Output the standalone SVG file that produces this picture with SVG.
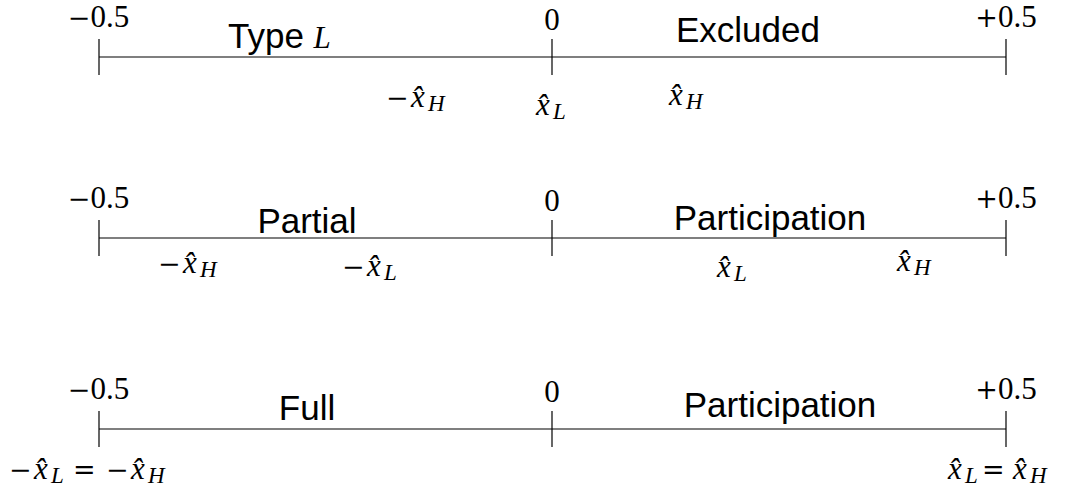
<svg xmlns="http://www.w3.org/2000/svg" width="1072" height="494" viewBox="0 0 1072 494">
<style>
.ax{stroke:#000;stroke-width:1.2;fill:none}
.tk{stroke:#000;stroke-width:1.2;fill:none}
.n{font-family:"Liberation Serif",serif;font-size:31px;fill:#000;text-anchor:middle}
.s{font-family:"Liberation Sans",sans-serif;font-size:35px;fill:#000}
.m{font-family:"Liberation Serif",serif;font-size:31px;fill:#000}
.op{font-family:"DejaVu Serif",serif;font-size:27px}
.i{font-style:italic}
.sub{font-family:"Liberation Serif",serif;font-style:italic;font-size:23px}
</style>
<rect width="1072" height="494" fill="#fff"/>
<g id="connectors">
  <line class="ax" x1="99" y1="57" x2="1006" y2="57"/>
  <line class="tk" x1="99" y1="39" x2="99" y2="75"/>
  <line class="tk" x1="552" y1="39" x2="552" y2="75"/>
  <line class="tk" x1="1006" y1="39" x2="1006" y2="75"/>
  <line class="ax" x1="99" y1="238" x2="1006" y2="238"/>
  <line class="tk" x1="99" y1="220" x2="99" y2="256"/>
  <line class="tk" x1="552" y1="220" x2="552" y2="256"/>
  <line class="tk" x1="1006" y1="220" x2="1006" y2="256"/>
  <line class="ax" x1="99" y1="429" x2="1006" y2="429"/>
  <line class="tk" x1="99" y1="411" x2="99" y2="447"/>
  <line class="tk" x1="552" y1="411" x2="552" y2="447"/>
  <line class="tk" x1="1006" y1="411" x2="1006" y2="447"/>
</g>
<!-- line 1 -->
<g id="l1-min"><text class="n" x="98.5" y="27"><tspan class="op">−</tspan>0.5</text></g>
<g id="l1-zero"><text class="n" x="552" y="30">0</text></g>
<g id="l1-max"><text class="n" x="1006" y="27"><tspan class="op">+</tspan>0.5</text></g>
<g id="l1-typeL"><text class="s" x="228" y="48">Type <tspan class="m i" font-size="34">L</tspan></text></g>
<g id="l1-excluded"><text class="s" x="748" y="42" text-anchor="middle">Excluded</text></g>
<g id="l1-negxH">
  <text class="m" y="107"><tspan class="op" x="386">−</tspan><tspan class="i" x="411">x̂</tspan><tspan class="sub" x="428" dy="4">H</tspan></text>
</g>
<g id="l1-xL">
  <text class="m" y="115"><tspan class="i" x="536">x̂</tspan><tspan class="sub" x="553" dy="4">L</tspan></text>
</g>
<g id="l1-xH">
  <text class="m" y="105"><tspan class="i" x="669">x̂</tspan><tspan class="sub" x="686" dy="4">H</tspan></text>
</g>
<!-- line 2 -->
<g id="l2-min"><text class="n" x="98.5" y="208"><tspan class="op">−</tspan>0.5</text></g>
<g id="l2-zero"><text class="n" x="552" y="211">0</text></g>
<g id="l2-max"><text class="n" x="1006" y="208"><tspan class="op">+</tspan>0.5</text></g>
<g id="l2-partial"><text class="s" x="307" y="233" text-anchor="middle">Partial</text></g>
<g id="l2-participation"><text class="s" x="770" y="230" text-anchor="middle">Participation</text></g>
<g id="l2-negxH">
  <text class="m" y="273"><tspan class="op" x="158">−</tspan><tspan class="i" x="183">x̂</tspan><tspan class="sub" x="200" dy="4">H</tspan></text>
</g>
<g id="l2-negxL">
  <text class="m" y="276"><tspan class="op" x="342">−</tspan><tspan class="i" x="367">x̂</tspan><tspan class="sub" x="384" dy="4">L</tspan></text>
</g>
<g id="l2-xL">
  <text class="m" y="277"><tspan class="i" x="717">x̂</tspan><tspan class="sub" x="734" dy="4">L</tspan></text>
</g>
<g id="l2-xH">
  <text class="m" y="271"><tspan class="i" x="897">x̂</tspan><tspan class="sub" x="914" dy="4">H</tspan></text>
</g>
<!-- line 3 -->
<g id="l3-min"><text class="n" x="98.5" y="399"><tspan class="op">−</tspan>0.5</text></g>
<g id="l3-zero"><text class="n" x="552" y="402">0</text></g>
<g id="l3-max"><text class="n" x="1006" y="399"><tspan class="op">+</tspan>0.5</text></g>
<g id="l3-full"><text class="s" x="307" y="420" text-anchor="middle">Full</text></g>
<g id="l3-participation"><text class="s" x="780" y="417" text-anchor="middle">Participation</text></g>
<g id="l3-left">
  <text class="m" y="479"><tspan class="op" x="9">−</tspan><tspan class="i" x="34">x̂</tspan><tspan class="sub" x="51" dy="4">L</tspan><tspan class="op" x="73" dy="-4">=</tspan><tspan class="op" x="106">−</tspan><tspan class="i" x="131">x̂</tspan><tspan class="sub" x="148" dy="4">H</tspan></text>
</g>
<g id="l3-right">
  <text class="m" y="479"><tspan class="i" x="948">x̂</tspan><tspan class="sub" x="965" dy="4">L</tspan><tspan class="op" x="982" dy="-4">=</tspan><tspan class="i" x="1013">x̂</tspan><tspan class="sub" x="1030" dy="4">H</tspan></text>
</g>
</svg>
